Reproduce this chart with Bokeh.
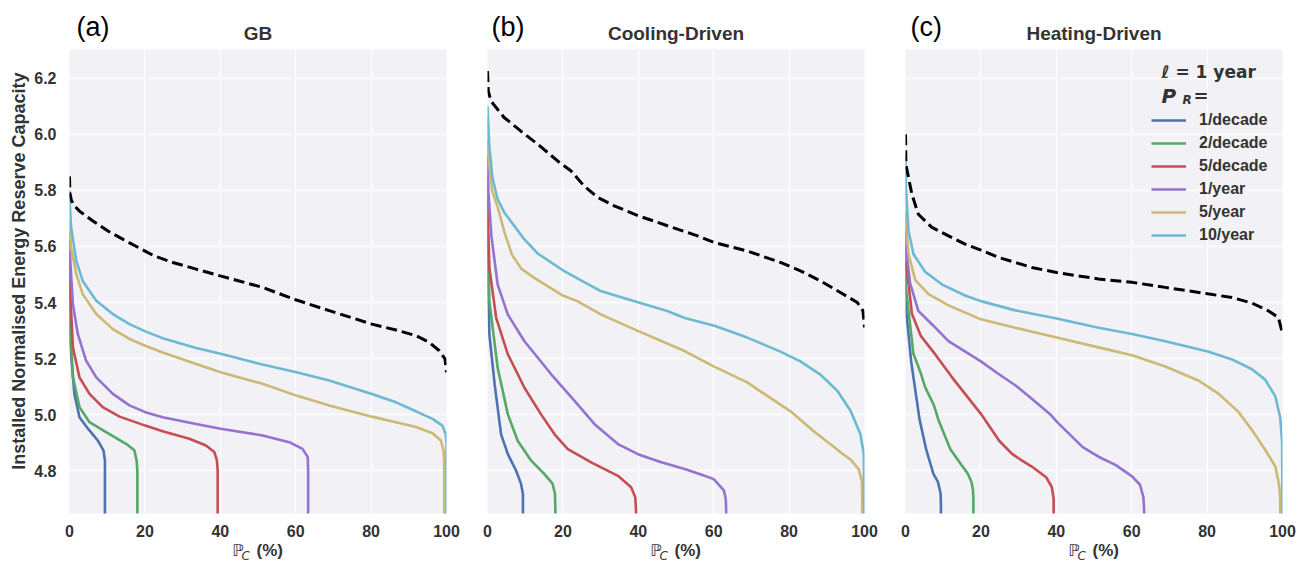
import math
from bokeh.plotting import figure
from bokeh.layouts import row, column
from bokeh.models import Label, Legend, LegendItem, FixedTicker, PrintfTickFormatter, Range1d, Grid
from bokeh.embed import file_html
from bokeh.resources import INLINE

# ---------------- data ----------------
SERIES = ["1/decade", "2/decade", "5/decade", "1/year", "5/year", "10/year"]
X_TICKS = [0, 20, 40, 60, 80, 100]
Y_TICKS = [4.8, 5.0, 5.2, 5.4, 5.6, 5.8, 6.0, 6.2]
PANEL_LETTERS = ["(a)", "(b)", "(c)"]
PANEL_TITLES = ["GB", "Cooling-Driven", "Heating-Driven"]
Y_LABEL = "Installed Normalised Energy Reserve Capacity"

# (a) GB
GB_DASH_X = [0, 0.1, 0.5, 1.3, 2.65, 6.2, 10.2, 14.1, 18.6, 22.5, 27.4, 33.6, 40, 45, 51.2, 60.2, 68.9, 80.2, 86.6, 91.9, 95.4, 98.1, 99.6, 100]
GB_DASH_Y = [5.85, 5.79, 5.765, 5.745, 5.726, 5.691, 5.655, 5.626, 5.594, 5.566, 5.543, 5.519, 5.495, 5.477, 5.454, 5.409, 5.371, 5.323, 5.302, 5.282, 5.258, 5.228, 5.199, 5.151]
GB_1DEC_X = [0, 0.2, 1.3, 2.65, 4.9, 7.5, 9.0, 9.4, 9.4]
GB_1DEC_Y = [5.55, 5.252, 5.074, 4.991, 4.95, 4.908, 4.873, 4.837, 4.60]
GB_2DEC_X = [0, 0.2, 0.9, 2.65, 5.3, 9.7, 15.0, 17.2, 17.8, 18.0, 18.0]
GB_2DEC_Y = [5.58, 5.311, 5.133, 5.027, 4.973, 4.938, 4.896, 4.873, 4.837, 4.80, 4.60]
GB_5DEC_X = [0, 0.2, 0.9, 2.65, 5.3, 8.8, 13.3, 20.1, 24.7, 31.8, 36.2, 38.4, 39.1, 39.3, 39.3]
GB_5DEC_Y = [5.62, 5.43, 5.24, 5.133, 5.074, 5.027, 4.993, 4.961, 4.941, 4.914, 4.89, 4.867, 4.837, 4.80, 4.60]
GB_1YR_X = [0, 0.2, 0.9, 2.2, 4.4, 7.1, 11.5, 15.9, 20.1, 24.7, 33.6, 40.1, 51.2, 58.3, 61.8, 63.2, 63.3, 63.3]
GB_1YR_Y = [5.66, 5.549, 5.394, 5.288, 5.193, 5.133, 5.074, 5.033, 5.009, 4.991, 4.967, 4.95, 4.926, 4.902, 4.878, 4.849, 4.80, 4.60]
GB_5YR_X = [0, 0.1, 0.44, 1.8, 3.5, 7.1, 11.5, 15.9, 20.1, 24.7, 33.6, 40.1, 51.2, 60.2, 68.9, 80.2, 86.6, 91.9, 96.3, 98.5, 99.2, 99.4, 99.4]
GB_5YR_Y = [5.70, 5.65, 5.596, 5.501, 5.43, 5.359, 5.305, 5.27, 5.246, 5.222, 5.181, 5.151, 5.11, 5.068, 5.033, 4.993, 4.973, 4.956, 4.934, 4.908, 4.873, 4.83, 4.60]
GB_10YR_X = [0, 0.1, 0.44, 1.8, 3.5, 7.1, 11.5, 15.9, 20.1, 24.7, 33.6, 40.1, 51.2, 60.2, 68.9, 80.2, 86.6, 91.9, 96.3, 98.9, 99.8, 100, 100]
GB_10YR_Y = [5.80, 5.74, 5.667, 5.549, 5.477, 5.406, 5.359, 5.323, 5.297, 5.273, 5.238, 5.217, 5.179, 5.151, 5.122, 5.074, 5.044, 5.012, 4.985, 4.961, 4.93, 4.90, 4.60]

# (b) Cooling-Driven
CD_DASH_X = [0, 0.2, 0.9, 4.4, 8.8, 13.3, 18.6, 22.1, 25.6, 29.2, 33.6, 40.1, 47.7, 55.7, 60.2, 68.9, 77.7, 83, 88.3, 93.6, 98.1, 99.6, 100]
CD_DASH_Y = [6.226, 6.155, 6.119, 6.06, 6.012, 5.965, 5.905, 5.87, 5.816, 5.775, 5.745, 5.709, 5.674, 5.638, 5.614, 5.584, 5.543, 5.513, 5.477, 5.436, 5.40, 5.37, 5.311]
CD_1DEC_X = [0, 0.1, 0.5, 1.9, 3.6, 5.4, 7.6, 8.9, 9.4, 9.4]
CD_1DEC_Y = [5.78, 5.50, 5.286, 5.108, 4.93, 4.859, 4.80, 4.753, 4.717, 4.60]
CD_2DEC_X = [0, 0.1, 0.5, 2.7, 5.4, 8.0, 11.6, 15.1, 17.3, 17.9, 18.0, 18.0]
CD_2DEC_Y = [5.85, 5.60, 5.404, 5.167, 5.001, 4.907, 4.836, 4.788, 4.753, 4.717, 4.66, 4.60]
CD_5DEC_X = [0, 0.1, 0.5, 2.3, 5.4, 9.8, 14.2, 17.8, 21.3, 27.5, 34.6, 38.1, 39.2, 39.4, 39.4]
CD_5DEC_Y = [5.92, 5.70, 5.523, 5.345, 5.215, 5.096, 5.001, 4.93, 4.877, 4.83, 4.782, 4.741, 4.705, 4.66, 4.60]
CD_1YR_X = [0, 0.2, 1.0, 2.7, 5.4, 9.8, 16.9, 23.1, 28.4, 34.6, 39.9, 46.1, 52.3, 57, 60, 62.7, 63.2, 63.3, 63.3]
CD_1YR_Y = [5.98, 5.80, 5.641, 5.464, 5.357, 5.262, 5.144, 5.049, 4.966, 4.895, 4.859, 4.83, 4.806, 4.785, 4.77, 4.73, 4.70, 4.66, 4.60]
CD_5YR_X = [0, 0.4, 1.2, 2.7, 4.5, 6.5, 9, 12.5, 20, 23.8, 30.2, 40, 52.3, 60, 68.9, 72.4, 80.4, 86.6, 91.9, 94.5, 96.3, 98.5, 99.3, 99.4, 99.4]
CD_5YR_Y = [6.06, 5.90, 5.80, 5.74, 5.65, 5.57, 5.52, 5.487, 5.425, 5.405, 5.357, 5.298, 5.227, 5.172, 5.115, 5.083, 5.012, 4.94, 4.885, 4.857, 4.84, 4.805, 4.762, 4.70, 4.60]
CD_10YR_X = [0, 0.44, 1.3, 2.65, 4.5, 9.8, 13.3, 20, 26, 30.2, 40.1, 47.7, 52.3, 60.2, 68.9, 77.7, 83, 88.3, 90.1, 92.8, 96.3, 98.9, 99.8, 100]
CD_10YR_Y = [6.10, 5.965, 5.846, 5.77, 5.72, 5.625, 5.575, 5.515, 5.47, 5.44, 5.40, 5.37, 5.345, 5.317, 5.275, 5.225, 5.19, 5.143, 5.12, 5.085, 5.014, 4.931, 4.86, 4.60]

# (c) Heating-Driven
HD_DASH_X = [0, 0.1, 1.7, 3.4, 7.0, 11.4, 15.8, 20, 24.7, 33.5, 40.1, 51.2, 60.1, 68.9, 80.2, 86.6, 91.9, 96.3, 98.9, 99.8]
HD_DASH_Y = [6.0, 5.893, 5.786, 5.715, 5.668, 5.638, 5.608, 5.587, 5.561, 5.525, 5.507, 5.484, 5.472, 5.454, 5.431, 5.418, 5.398, 5.37, 5.347, 5.30]
HD_1DEC_X = [0, 0.1, 1.5, 3.7, 5.5, 7.4, 8.6, 9.3, 9.4, 9.4]
HD_1DEC_Y = [5.55, 5.383, 5.19, 4.985, 4.875, 4.789, 4.76, 4.72, 4.68, 4.60]
HD_2DEC_X = [0, 0.1, 2.1, 4.0, 5.2, 7.5, 8.8, 11.9, 14.9, 16.5, 17.5, 17.9, 18, 18]
HD_2DEC_Y = [5.6, 5.454, 5.217, 5.15, 5.098, 5.035, 4.979, 4.877, 4.82, 4.79, 4.76, 4.73, 4.70, 4.60]
HD_5DEC_X = [0, 0.1, 1.7, 4.1, 7.9, 12.3, 15.8, 20, 24.9, 28.2, 30.5, 33.5, 37.3, 38.8, 39.3, 39.3]
HD_5DEC_Y = [5.66, 5.549, 5.36, 5.28, 5.215, 5.134, 5.074, 5.003, 4.906, 4.861, 4.84, 4.815, 4.777, 4.742, 4.70, 4.60]
HD_1YR_X = [0, 0.1, 1.2, 3.4, 7.2, 11.4, 20, 24.7, 29.3, 33.5, 38.5, 40.1, 47, 51.2, 55.8, 60.1, 62.2, 63.1, 63.3, 63.3]
HD_1YR_Y = [5.72, 5.596, 5.47, 5.37, 5.32, 5.262, 5.19, 5.145, 5.103, 5.057, 5.0, 4.975, 4.884, 4.85, 4.82, 4.78, 4.75, 4.706, 4.66, 4.60]
HD_5YR_X = [0, 0.1, 0.8, 2.6, 6.1, 11.4, 20, 29.1, 40.1, 51.2, 60.1, 68.9, 77.7, 83, 88.3, 91.9, 95.4, 98.1, 99.1, 99.4, 99.4]
HD_5YR_Y = [5.88, 5.691, 5.573, 5.48, 5.43, 5.39, 5.34, 5.31, 5.275, 5.24, 5.212, 5.172, 5.122, 5.075, 5.01, 4.945, 4.875, 4.815, 4.75, 4.70, 4.60]
HD_10YR_X = [0, 0.1, 0.8, 2.1, 5.2, 9.6, 15.8, 20, 29.1, 40.1, 51.2, 60.1, 68.9, 80.2, 86.6, 91.9, 95.4, 98.1, 99.4, 99.9, 100]
HD_10YR_Y = [5.93, 5.81, 5.656, 5.573, 5.51, 5.465, 5.425, 5.405, 5.372, 5.343, 5.31, 5.288, 5.262, 5.225, 5.197, 5.162, 5.125, 5.065, 4.99, 4.90, 4.60]

# ---------------- style ----------------
COLORS = ["#4C72B0", "#55A868", "#C44E52", "#9472D0", "#CCB974", "#6CB9D2"]
BG = "#F1F1F6"
TXT = "#333333"
FONT = "Liberation Sans"

PANELS = [
    (GB_DASH_X, GB_DASH_Y, [(GB_1DEC_X, GB_1DEC_Y), (GB_2DEC_X, GB_2DEC_Y), (GB_5DEC_X, GB_5DEC_Y),
                            (GB_1YR_X, GB_1YR_Y), (GB_5YR_X, GB_5YR_Y), (GB_10YR_X, GB_10YR_Y)]),
    (CD_DASH_X, CD_DASH_Y, [(CD_1DEC_X, CD_1DEC_Y), (CD_2DEC_X, CD_2DEC_Y), (CD_5DEC_X, CD_5DEC_Y),
                            (CD_1YR_X, CD_1YR_Y), (CD_5YR_X, CD_5YR_Y), (CD_10YR_X, CD_10YR_Y)]),
    (HD_DASH_X, HD_DASH_Y, [(HD_1DEC_X, HD_1DEC_Y), (HD_2DEC_X, HD_2DEC_Y), (HD_5DEC_X, HD_5DEC_Y),
                            (HD_1YR_X, HD_1YR_Y), (HD_5YR_X, HD_5YR_Y), (HD_10YR_X, HD_10YR_Y)]),
]

W, H = 1305, 562
HEAD_H, FOOT_H = 49, 21
FRAME_W, FRAME_H = 377, 464
BOTTOM_B = H - HEAD_H - FOOT_H - FRAME_H  # 28
YLAB_W = 30
BORDERS = [(69 - YLAB_W, 20), (21, 20), (21, 23)]
FRAME_LEFT = [69, 487, 905]
LETTER_DX = [7, 4, 5]


def blank(width, height):
    f = figure(output_backend="svg", toolbar_location=None, title=None,
               width=width, height=height, x_range=Range1d(0, width), y_range=Range1d(0, height),
               x_axis_location=None, y_axis_location=None, min_border=0,
               outline_line_color=None, background_fill_color="white",
               border_fill_color="white")
    f.xgrid.visible = False
    f.ygrid.visible = False
    return f


def txt(x, y, text, size, font=FONT, style="bold", color=TXT, align="left", units="data", angle=0.0):
    return Label(x=x, y=y, x_units=units, y_units=units, text=text, text_align=align,
                 text_baseline="middle", text_font=font, text_font_style=style,
                 text_font_size=size, text_color=color, angle=angle)


def style_axis(ax, standoff):
    ax.axis_line_color = None
    ax.major_tick_line_color = None
    ax.minor_tick_line_color = None
    ax.major_tick_out = 0
    ax.major_tick_in = 0
    ax.minor_tick_out = 0
    ax.minor_tick_in = 0
    ax.major_label_standoff = standoff
    ax.major_label_text_font = FONT
    ax.major_label_text_font_style = "bold"
    ax.major_label_text_font_size = "16px"
    ax.major_label_text_color = TXT


def make_panel(i):
    dash_x, dash_y, curves = PANELS[i]
    show_y = (i == 0)
    left, right = BORDERS[i]
    p = figure(output_backend="svg", toolbar_location=None, title=None,
               frame_width=FRAME_W, frame_height=FRAME_H,
               x_range=Range1d(0, 100), y_range=Range1d(4.6475, 6.3025),
               min_border_left=left, min_border_right=right,
               min_border_top=0, min_border_bottom=BOTTOM_B,
               y_axis_location="left" if show_y else None,
               background_fill_color=BG, border_fill_color="white",
               outline_line_color=None)

    p.xgrid.ticker = FixedTicker(ticks=X_TICKS)
    p.xgrid.grid_line_color = "white"
    p.xgrid.grid_line_width = 1.4
    if len(p.ygrid) == 0:
        p.add_layout(Grid(dimension=1, ticker=FixedTicker(ticks=Y_TICKS)), "center")
    p.ygrid.ticker = FixedTicker(ticks=Y_TICKS)
    p.ygrid.grid_line_color = "white"
    p.ygrid.grid_line_width = 1.4

    p.xaxis.ticker = FixedTicker(ticks=X_TICKS)
    for ax in p.xaxis:
        style_axis(ax, 11)

    if show_y:
        p.yaxis.ticker = FixedTicker(ticks=Y_TICKS)
        p.yaxis.formatter = PrintfTickFormatter(format="%.1f")
        for ax in p.yaxis:
            style_axis(ax, 13)

    renderers = []
    for (xs, ys), c in zip(curves, COLORS):
        renderers.append(p.line(xs, ys, line_color=c, line_width=2.6))
    p.line(dash_x, dash_y, line_color="black", line_width=3, line_dash="11 5")

    if i == 2:
        items = [LegendItem(label=s, renderers=[r]) for s, r in zip(SERIES, renderers)]
        leg = Legend(items=items, location=(246, 268), padding=0, margin=0, spacing=3,
                     glyph_width=35, glyph_height=20, label_height=20, label_standoff=13,
                     border_line_color=None, background_fill_alpha=0,
                     label_text_font=FONT, label_text_font_style="bold",
                     label_text_font_size="16px", label_text_color=TXT)
        p.add_layout(leg)
        p.add_layout(txt(256, 442, "ℓ = 1 year", "17px", font="DejaVu Sans", units="screen"))
        p.add_layout(txt(256, 418, "P", "20px", font="DejaVu Sans", style="bold italic", units="screen"))
        p.add_layout(txt(277, 414, "R", "12px", font="DejaVu Sans", style="bold italic", units="screen"))
        p.add_layout(txt(288, 418, "=", "18px", font="DejaVu Sans", units="screen"))
    return p


# left strip with the y-axis title
ylab = blank(YLAB_W, FRAME_H + BOTTOM_B)
ylab.add_layout(txt(18.5, FRAME_H + BOTTOM_B - (284 - HEAD_H), Y_LABEL, "18px",
                    align="center", angle=math.pi / 2))

# header with panel letters and titles
head = blank(W, HEAD_H)
for i in range(3):
    fl = FRAME_LEFT[i]
    head.add_layout(txt(fl + FRAME_W / 2, 15.7, PANEL_TITLES[i], "19px", align="center"))
    head.add_layout(txt(fl + LETTER_DX[i], 22.5, PANEL_LETTERS[i], "27px", style="normal",
                        color="black"))

# footer with x-axis labels  ℙ_C (%)
foot = blank(W, FOOT_H)
for i in range(3):
    fl = FRAME_LEFT[i]
    foot.add_layout(txt(fl + 163, 11.6, "ℙ", "16px", font="DejaVu Sans", style="normal"))
    foot.add_layout(txt(fl + 172, 6.2, "C", "12px", font="DejaVu Sans", style="italic"))
    foot.add_layout(txt(fl + 187, 12, "(%)", "17px"))

layout = column(head, row(ylab, make_panel(0), make_panel(1), make_panel(2)), foot)
open("out.html", "w").write(file_html(layout, INLINE))
